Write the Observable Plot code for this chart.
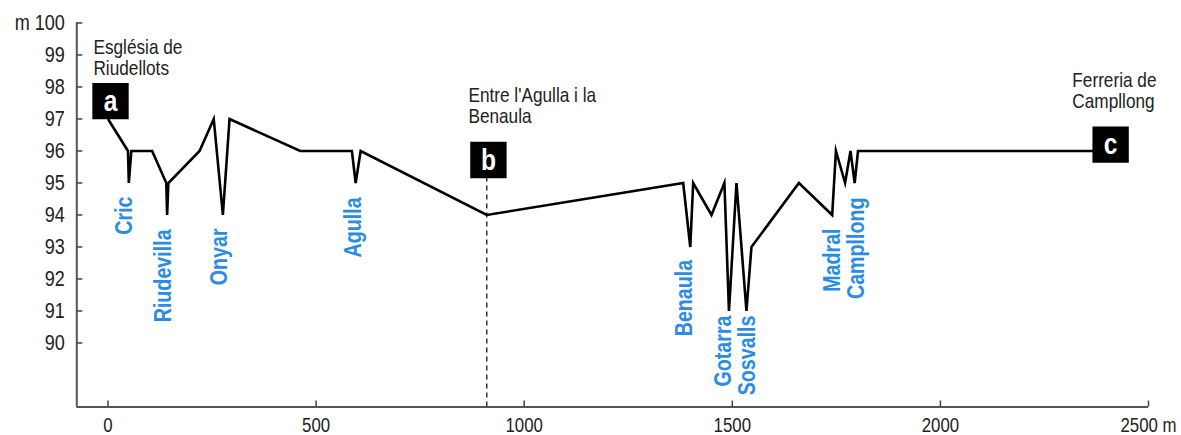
<!DOCTYPE html>
<html>
<head>
<meta charset="utf-8">
<script src="https://cdn.jsdelivr.net/npm/d3@7"></script>
<script src="https://cdn.jsdelivr.net/npm/@observablehq/plot@0.6"></script>
<style>
  html, body { margin: 0; padding: 0; background: #fff; }
  svg { display: block; }
</style>
</head>
<body>
<div id="chart"></div>
<script>
// ---- Data ----
// Elevation profile: distance along route (m) and elevation (m)
const profileDistance = [0, 48, 50, 56, 106, 140, 142, 145, 220, 254, 276, 292, 462, 586, 595, 607, 910,
  1382, 1399, 1406, 1450, 1481, 1492, 1510, 1534, 1546, 1660, 1740, 1749, 1771, 1784, 1794, 1802, 2409];
const profileElevation = [97, 96, 95, 96, 96, 95, 94, 95, 96, 97, 94, 97, 96, 96, 95, 96, 94,
  95, 93, 95, 94, 95, 91, 95, 91, 93, 95, 94, 96, 95, 96, 95, 96, 96];

// Stream crossings (blue labels): name, distance, top of label (elevation)
const streamNames = ["Cric", "Riudevilla", "Onyar", "Agulla", "Benaula", "Gotarra", "Sosvalls", "Madral", "Campllong"];
const streamDistance = [40, 134, 268, 589, 1385, 1479, 1537, 1740, 1798];
const streamLabelTop = [94.58, 93.55, 93.58, 94.55, 92.6, 90.86, 90.86, 93.58, 94.55];

// Sampling points a, b, c
const siteLetters = ["a", "b", "c"];
const siteBoxDistance = [6, 914, 2409];
const siteBoxElevation = [97.56, 95.72, 96.2];
const siteNames = ["Església de\nRiudellots", "Entre l'Agulla i la\nBenaula", "Ferreria de\nCampllong"];
const siteNameDistance = [-35, 866, 2317];
const siteNameElevation = [98.36, 96.86, 97.33];

// Divider at b
const dividerDistance = [910];

// Axes
const xTicks = [0, 500, 1000, 1500, 2000, 2500];
const xTickLabels = ["0", "500", "1000", "1500", "2000", "2500 m"];
const yTicks = [90, 91, 92, 93, 94, 95, 96, 97, 98, 99, 100];
const yTickLabels = ["90", "91", "92", "93", "94", "95", "96", "97", "98", "99", "m 100"];
const xDomain = [-75, 2500];
const yDomain = [88, 100];

// ---- Build tables ----
const profile = profileDistance.map((d, i) => ({d, e: profileElevation[i]}));
const streams = streamNames.map((name, i) => ({name, d: streamDistance[i], e: streamLabelTop[i]}));
const sites = siteLetters.map((letter, i) => ({
  letter, d: siteBoxDistance[i], e: siteBoxElevation[i],
  name: siteNames[i], nd: siteNameDistance[i], ne: siteNameElevation[i]
}));

const FONT = '"Liberation Sans", Arial, sans-serif';
const NARROW = 0.82; // emulate a narrow (condensed) sans face

const chart = Plot.plot({
  width: 1181,
  height: 435,
  marginLeft: 76.3,
  marginRight: 33,
  marginTop: 22.5,
  marginBottom: 28.5,
  style: {fontFamily: FONT, background: "#fff", color: "#222", overflow: "visible"},
  x: {domain: xDomain, axis: null},
  y: {domain: yDomain, axis: null},
  marks: [
    // axis lines
    Plot.ruleY([yDomain[0]], {x1: xDomain[0], x2: xDomain[1], stroke: "#555", strokeWidth: 2}),
    Plot.ruleX([xDomain[0]], {y1: yDomain[0], y2: yDomain[1], stroke: "#555", strokeWidth: 2}),
    // ticks (inward) and labels
    Plot.axisX(xTicks, {tickSize: -6, tickPadding: 16, fontSize: 20.5, stroke: "#444", strokeWidth: 1.5, fill: "#222",
      tickFormat: (d) => xTickLabels[xTicks.indexOf(d)]}),
    Plot.axisY(yTicks, {tickSize: -6, tickPadding: 18, fontSize: 22, stroke: "#444", strokeWidth: 1.5, fill: "#222",
      tickFormat: (d) => yTickLabels[yTicks.indexOf(d)]}),
    // dashed divider at b
    Plot.ruleX(dividerDistance, {y1: yDomain[0], y2: siteBoxElevation[1], stroke: "#333", strokeWidth: 1.5, strokeDasharray: "5,4"}),
    // profile line
    Plot.line(profile, {x: "d", y: "e", stroke: "#000", strokeWidth: 2.6, strokeLinejoin: "miter", strokeLinecap: "butt", strokeMiterlimit: 6}),
    // stream labels
    Plot.text(streams, {x: "d", y: "e", text: "name", rotate: -90, textAnchor: "end", lineAnchor: "middle",
      fill: "#2b8ce6", fontWeight: "bold", fontSize: 24}),
    // site boxes
    Plot.dot(sites, {x: "d", y: "e", symbol: "square", r: 20.5, fill: "#000", stroke: null}),
    Plot.text(sites, {x: "d", y: "e", text: "letter", fill: "#fff", fontWeight: "bold", fontSize: 30, lineAnchor: "middle"}),
    // site names
    Plot.text(sites, {x: "nd", y: "ne", text: "name", textAnchor: "start", lineAnchor: "bottom", lineHeight: 1.0,
      fill: "#222", fontSize: 21})
  ]
});

// Condense every text horizontally (along its own baseline) to mimic a narrow typeface
chart.querySelectorAll("text").forEach((t) => {
  const tr = t.getAttribute("transform") || "";
  t.setAttribute("transform", (tr + ` scale(${NARROW},1)`).trim());
});

document.getElementById("chart").appendChild(chart);
</script>
</body>
</html>
